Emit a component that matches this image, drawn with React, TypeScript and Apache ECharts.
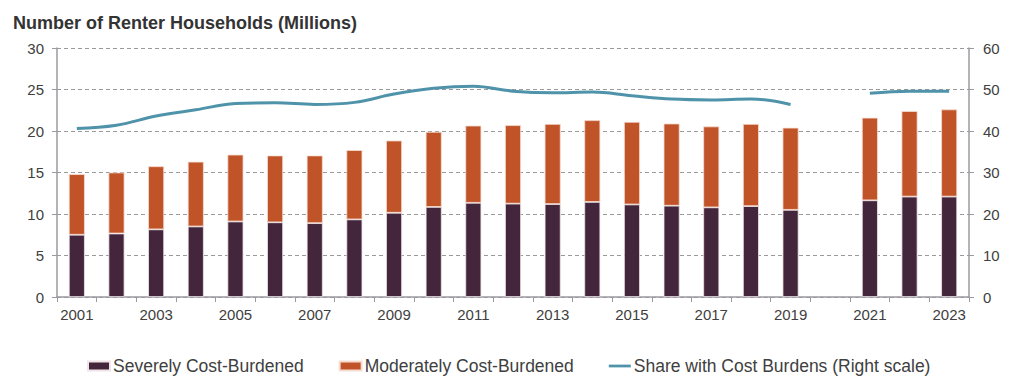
import React, { useEffect, useRef } from "react";
import * as echarts from "echarts";

const years = [
  "2001", "2002", "2003", "2004", "2005", "2006", "2007", "2008", "2009", "2010",
  "2011", "2012", "2013", "2014", "2015", "2016", "2017", "2018", "2019", "2020",
  "2021", "2022", "2023",
];
const severe = [
  7.5, 7.65, 8.15, 8.5, 9.1, 9.0, 8.9, 9.35, 10.15, 10.85,
  11.35, 11.25, 11.2, 11.45, 11.15, 11.0, 10.8, 10.95, 10.5, null,
  11.65, 12.1, 12.1,
];
const total = [
  14.8, 15.0, 15.75, 16.3, 17.15, 17.05, 17.05, 17.7, 18.85, 19.9,
  20.65, 20.7, 20.85, 21.3, 21.1, 20.9, 20.55, 20.85, 20.4, null,
  21.6, 22.4, 22.6,
];
const moderate = total.map((t, i) =>
  t == null || severe[i] == null ? null : Math.round((t - (severe[i] as number)) * 100) / 100
);
const share = [
  40.6, 41.4, 43.6, 45.1, 46.6, 46.8, 46.4, 46.9, 48.9, 50.3,
  50.8, 49.6, 49.2, 49.4, 48.5, 47.7, 47.5, 47.7, 46.4, null,
  49.1, 49.6, 49.6,
];
const leftTicks = { min: 0, max: 30, interval: 5 };
const rightTicks = { min: 0, max: 60, interval: 10 };

const textColor = "#404040";
const axisColor = "#9a9aa0";
const font = "Liberation Sans, Arial, sans-serif";

export default function App() {
  const ref = useRef<HTMLDivElement>(null);
  useEffect(() => {
    const chart = echarts.init(ref.current!, null, { renderer: "svg" });
    chart.setOption({
      animation: false,
      backgroundColor: "#ffffff",
      textStyle: { fontFamily: font },
      title: {
        text: "Number of Renter Households (Millions)",
        left: 8,
        top: 9,
        textStyle: {
          fontFamily: font,
          fontSize: 18,
          fontWeight: "bold",
          color: "#333333",
        },
      },
      grid: { left: 57, right: 55, top: 48, bottom: 95, containLabel: false },
      legend: {
        top: 352,
        left: 82,
        itemGap: 35,
        itemWidth: 22,
        itemHeight: 9,
        textStyle: { fontSize: 17.5, color: textColor, padding: [0, 0, 0, -2] },
        data: [
          { name: "Severely Cost-Burdened", icon: "rect" },
          { name: "Moderately Cost-Burdened", icon: "rect" },
          {
            name: "Share with Cost Burdens (Right scale)",
            icon: "path://M0,0 L24,0 L24,3 L0,3 Z",
            itemStyle: { color: "#4f93aa" },
          },
        ],
      },
      xAxis: {
        type: "category",
        data: years,
        boundaryGap: true,
        axisLine: { lineStyle: { color: axisColor, width: 1.5 } },
        axisTick: { show: true, interval: 0, length: 5, lineStyle: { color: axisColor } },
        axisLabel: { interval: 1, color: textColor, fontSize: 15, margin: 10 },
      },
      yAxis: [
        {
          type: "value",
          ...leftTicks,
          axisLine: { show: true, lineStyle: { color: axisColor, width: 1.5 } },
          axisTick: { show: true, length: 5, lineStyle: { color: axisColor } },
          axisLabel: { color: textColor, fontSize: 15, margin: 13 },
          splitLine: { lineStyle: { color: "#9a9a9a", type: [4, 3], width: 1 } },
        },
        {
          type: "value",
          ...rightTicks,
          position: "right",
          axisLine: { show: true, lineStyle: { color: axisColor, width: 1.5 } },
          axisTick: { show: true, length: 5, lineStyle: { color: axisColor } },
          axisLabel: { color: textColor, fontSize: 15, margin: 14 },
          splitLine: { show: false },
        },
      ],
      series: [
        {
          name: "Severely Cost-Burdened",
          type: "bar",
          stack: "a",
          barWidth: 16,
          data: severe,
          itemStyle: { color: "#43263b", borderColor: "#f1e4e8", borderWidth: 0.8 },
        },
        {
          name: "Moderately Cost-Burdened",
          type: "bar",
          stack: "a",
          barWidth: 16,
          data: moderate,
          itemStyle: { color: "#c05328", borderColor: "#f5ddd2", borderWidth: 0.8 },
        },
        {
          name: "Share with Cost Burdens (Right scale)",
          type: "line",
          yAxisIndex: 1,
          data: share,
          smooth: 0.4,
          connectNulls: false,
          showSymbol: false,
          symbol: "none",
          lineStyle: { color: "#4f93aa", width: 3 },
          itemStyle: { color: "#4f93aa" },
        },
      ],
    });
    return () => chart.dispose();
  }, []);
  return (
    <div
      ref={ref}
      style={{ position: "fixed", left: 0, top: 0, width: 1024, height: 392 }}
    />
  );
}
